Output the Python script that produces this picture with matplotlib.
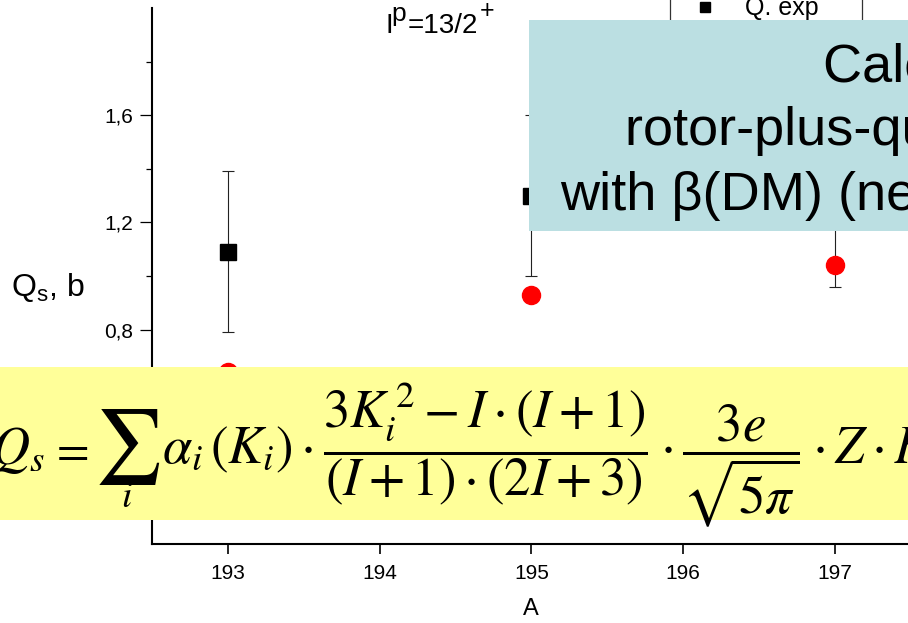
import matplotlib
matplotlib.use('Agg')
import matplotlib.pyplot as plt
from matplotlib.patches import Rectangle
from matplotlib.ticker import FuncFormatter

plt.rcParams['font.family'] = ['Liberation Sans', 'DejaVu Sans']
plt.rcParams['mathtext.fontset'] = 'custom'
plt.rcParams['mathtext.rm'] = 'Liberation Sans'
plt.rcParams['mathtext.it'] = 'Liberation Sans:italic'

# data
A = [193, 195, 197]
Q_exp = [1.09, 1.30, 1.26]
Q_err = [0.30, 0.30, 0.30]
Q_calc = [0.64, 0.93, 1.04]

x_ticks = [193, 194, 195, 196, 197, 198]
y_ticks = [0.4, 0.8, 1.2, 1.6]
y_minor = [0.2, 0.6, 1.0, 1.4, 1.8]

W, H = 908, 623


def fx(x):
    return x / W


def fy(y):
    return 1 - y / H


fig = plt.figure(figsize=(W / 100, H / 100), dpi=100)
ax = fig.add_axes([152 / W, 79 / H, 910.5 / W, 536 / H])

h_exp = ax.errorbar(A, Q_exp, yerr=Q_err, fmt='s', color='black', ms=11,
                    ecolor='#222222', elinewidth=0.8, capsize=4.5, capthick=0.8,
                    label='Q. exp', zorder=3)
h_calc, = ax.plot(A, Q_calc, 'o', color='red', ms=13, mec='red', label='Q. calc', zorder=4)

ax.set_xlim(192.5, 198.5)
ax.set_ylim(0, 2.0)
ax.set_xticks(x_ticks)
ax.set_yticks(y_ticks)
ax.set_yticks(y_minor, minor=True)
ax.yaxis.set_major_formatter(FuncFormatter(lambda v, p: f'{v:.1f}'.replace('.', ',')))

for s in ['top', 'right']:
    ax.spines[s].set_visible(False)
for s in ['left', 'bottom']:
    ax.spines[s].set_linewidth(1.5)
ax.tick_params(axis='y', which='major', direction='out', length=8.5, width=0.9,
               labelsize=15, pad=5)
ax.tick_params(axis='y', which='minor', direction='out', length=4.5, width=0.9)
ax.tick_params(axis='x', which='major', direction='out', length=7.5, width=1.2,
               labelsize=15, pad=7)

ax.set_ylabel(r'Q$_\mathrm{s}$, b', fontsize=23, rotation=0, ha='center', va='center')
ax.yaxis.set_label_coords(-0.115, 0.478)
ax.set_xlabel('A', fontsize=17, va='center')
ax.xaxis.set_label_coords(0.4163, -0.121)

# legend: squares only (no error bar in the key), top part runs off the picture
leg = ax.legend([h_exp[0], h_calc], ['Q. exp', 'Q. calc'],
                loc='upper left', bbox_to_anchor=(fx(670), 1.03, 192 / W, 0),
                bbox_transform=fig.transFigure, mode='expand', borderaxespad=0,
                fontsize=18, frameon=True, fancybox=False, edgecolor='black',
                borderpad=0.6, handlelength=1.6, handletextpad=0.8, markerscale=0.6,
                numpoints=1)
leg.get_frame().set_linewidth(0.9)

# I^p = 13/2^+
fig.text(fx(385), fy(33), 'I', fontsize=20, va='baseline')
fig.text(fx(391), fy(21), 'p', fontsize=19, va='baseline')
fig.text(fx(408), fy(33), '=13/2', fontsize=20, va='baseline')
fig.text(fx(480), fy(18), '+', fontsize=18, va='baseline')

# blue box with explanation
fig.add_artist(Rectangle((fx(529), fy(231)), 1, 211 / H, transform=fig.transFigure,
                         facecolor='#bbdfe2', edgecolor='none', zorder=5))
lines = ['Calculations in the', 'rotor-plus-quasiparticle model', 'with β(DM) (new parametrization)']
starts = [823, 625, 560]
bases = [81, 145, 210]
for t, x0, y0 in zip(lines, starts, bases):
    fig.text(fx(x0), fy(y0), t, fontsize=39, ha='left', va='baseline', zorder=6)

# yellow box with formula
fig.add_artist(Rectangle((0, fy(520)), 1, 153 / H, transform=fig.transFigure,
                         facecolor='#ffff99', edgecolor='none', zorder=5))
fs = 38
fig.text(fx(-9), fy(464), r'$Q_s$', fontsize=fs, math_fontfamily='stix',
         va='baseline', zorder=6)
fig.text(fx(50), fy(464), r'$=$', fontsize=34, math_fontfamily='stix',
         va='baseline', zorder=6)
fig.text(fx(127), fy(447), r'$\sum$', fontsize=54, math_fontfamily='stix',
         ha='center', va='center', zorder=6)
fig.text(fx(127), fy(507), r'$i$', fontsize=27, math_fontfamily='stix',
         ha='center', va='baseline', zorder=6)
rest = (r'$\alpha_i\,(K_i)\cdot\dfrac{3K_i^{\,2}-I\cdot(I+1)}{(I+1)\cdot(2I+3)}'
        r'\cdot\dfrac{3e}{\sqrt{5\pi}}\cdot Z\cdot R_0^{\,2}\cdot\beta$')
fig.text(fx(162), fy(464), rest, fontsize=fs, math_fontfamily='stix',
         ha='left', va='baseline', zorder=6)

fig.savefig('out.png', dpi=100)
